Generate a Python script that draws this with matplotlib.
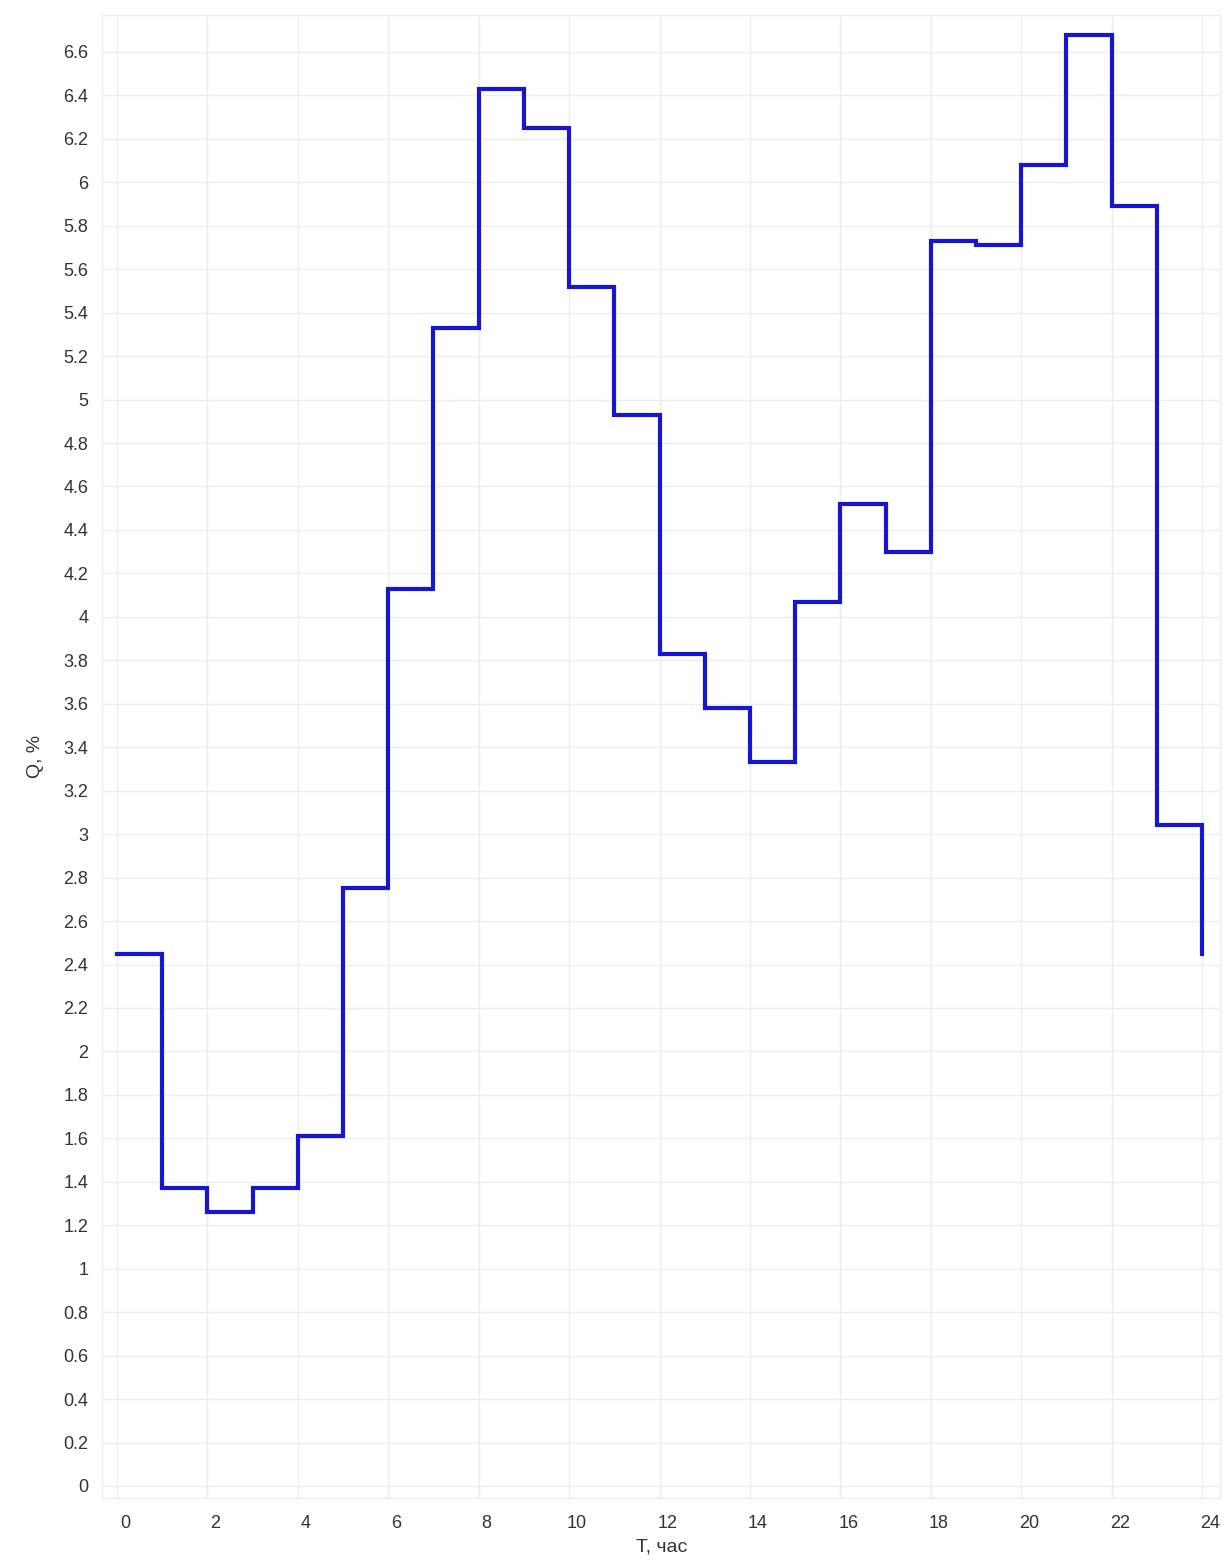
"""
Hourly water consumption step chart (Q, % by hour)
"""

import matplotlib
matplotlib.use('Agg')  # Use non-interactive backend
import matplotlib.pyplot as plt
import matplotlib.transforms as mtransforms
import numpy as np

plt.rcParams['font.family'] = ['Liberation Sans', 'DejaVu Sans']

# hourly consumption, % of daily volume (hours 0..23, last value repeated at 24)
hours = list(range(25))
q_percent = [2.45, 1.37, 1.26, 1.37, 1.61, 2.75, 4.13, 5.33, 6.43, 6.25,
             5.52, 4.93, 3.83, 3.58, 3.33, 4.07, 4.52, 4.30, 5.73, 5.71,
             6.08, 6.68, 5.89, 3.04, 2.45]

x_ticks = list(range(0, 25, 2))
y_ticks = [round(v * 0.2, 1) for v in range(34)]
y_labels = [('%g' % v) for v in y_ticks]

fig = plt.figure(figsize=(12.3, 15.61), dpi=100)
ax = fig.add_axes([0.083, 0.0404, 0.909, 0.95])

# step line: value holds for the whole hour
ax.step(hours, q_percent, where='post', color='#1616d2', linewidth=3.0,
        solid_joinstyle='miter')

ax.set_xlim(-0.33, 24.4)
ax.set_ylim(-0.055, 6.77)
ax.set_xticks(x_ticks)
ax.set_yticks(y_ticks)
ax.set_yticklabels(y_labels)

ax.grid(True, color='#ececec', linewidth=1.0)
ax.set_axisbelow(True)
for s in ax.spines.values():
    s.set_color('#ededed')
    s.set_linewidth(1.0)

ax.tick_params(axis='both', length=0, labelsize=13, labelcolor='#333333')
ax.tick_params(axis='y', pad=10)
ax.tick_params(axis='x', pad=12)

# x labels sit slightly right of their grid lines
offset = mtransforms.ScaledTranslation(0.08, 0, fig.dpi_scale_trans)
for lbl in ax.get_xticklabels():
    lbl.set_transform(lbl.get_transform() + offset)

ax.set_xlabel('T, час', fontsize=14, color='#333333', labelpad=5)
ax.set_ylabel('Q, %', fontsize=14, color='#333333', labelpad=14)

fig.savefig('out.png', dpi=100)
